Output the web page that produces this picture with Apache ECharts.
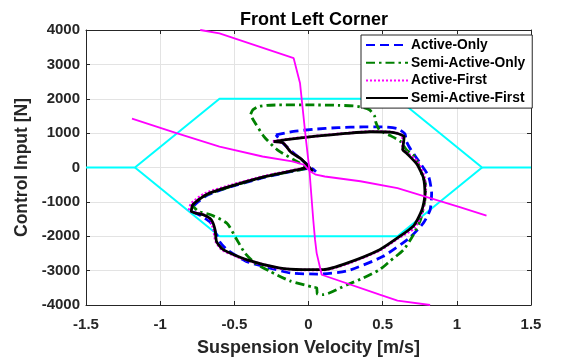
<!DOCTYPE html>
<html><head><meta charset="utf-8">
<script src="https://cdn.jsdelivr.net/npm/echarts/dist/echarts.min.js"></script>
<style>html,body{margin:0;padding:0;background:#fff}#c{width:567px;height:359px}</style>
</head><body><div id="c"></div><script>
// ---- data (suspension velocity [m/s], control input [N]) ----
var activeOnlyV = [-0.22,-0.1,0.03,0.2,0.37,0.5,0.6,0.65,0.66,0.69,0.76,0.81,0.83,0.82,0.775,0.68,0.5,0.26,0.06,-0.12,-0.26,-0.42,-0.55,-0.6,-0.62,-0.66,-0.72,-0.78,-0.77,-0.68,-0.53,-0.3,-0.06,0.02,0.05,-0.02,-0.1,-0.17,-0.22];
var activeOnlyF = [950,1050,1110,1160,1180,1180,1130,980,760,520,80,-260,-750,-1230,-1610,-2050,-2590,-3010,-3100,-3070,-2925,-2730,-2390,-2150,-1950,-1600,-1420,-1260,-1100,-800,-570,-290,-70,-20,-120,130,420,700,950];

var semiOnlyV = [-0.39,-0.375,-0.34,-0.28,-0.2,0.0,0.2,0.33,0.41,0.445,0.455,0.48,0.55,0.62,0.66,0.72,0.77,0.79,0.785,0.755,0.7,0.64,0.55,0.48,0.37,0.26,0.1,0.06,0.055,0.03,-0.125,-0.26,-0.36,-0.43,-0.49,-0.55,-0.66,-0.74,-0.78,-0.69,-0.53,-0.3,-0.05,-0.01,-0.1,-0.21,-0.3,-0.38,-0.39];
var semiOnlyF = [1550,1680,1770,1810,1820,1820,1810,1780,1680,1500,1300,1080,930,760,515,300,-260,-500,-940,-1520,-2010,-2400,-2720,-2970,-3215,-3410,-3700,-3680,-3500,-3480,-3300,-3020,-2780,-2480,-2050,-1620,-1375,-1280,-1100,-800,-560,-270,-60,-17,224,515,900,1440,1550];

var activeFirstV = [-0.24,-0.15,0.05,0.25,0.42,0.55,0.6,0.635,0.635,0.665,0.735,0.78,0.79,0.77,0.715,0.6,0.48,0.26,0.1,-0.04,-0.2,-0.42,-0.58,-0.625,-0.64,-0.665,-0.72,-0.805,-0.79,-0.7,-0.535,-0.3,-0.08,0.0,0.03,-0.05,-0.12,-0.17,-0.24];
var activeFirstF = [760,820,915,995,1045,1035,995,905,540,430,165,-270,-660,-1250,-1750,-2070,-2410,-2800,-2980,-2980,-2930,-2690,-2400,-2150,-1800,-1500,-1350,-1250,-1050,-760,-530,-255,-60,5,-110,250,455,715,760];

var semiFirstV = [-0.235,-0.15,0.05,0.25,0.42,0.55,0.6,0.645,0.64,0.635,0.66,0.73,0.775,0.785,0.765,0.71,0.6,0.48,0.26,0.1,-0.04,-0.2,-0.42,-0.575,-0.62,-0.63,-0.655,-0.71,-0.79,-0.78,-0.69,-0.53,-0.3,-0.08,0.0,0.03,-0.05,-0.12,-0.17,-0.235];
var semiFirstF = [750,810,910,990,1040,1030,990,900,700,520,420,100,-300,-800,-1230,-1690,-2050,-2390,-2780,-2970,-2970,-2920,-2680,-2390,-2150,-1810,-1520,-1375,-1280,-1080,-790,-550,-270,-70,0,-110,250,450,710,750];

var cyanUpperV = [-1.5,-1.17,-0.6,0.6,1.17,1.5];
var cyanUpperF = [0,0,2000,2000,0,0];
var cyanLowerV = [-1.17,-0.6,0.6,1.17];
var cyanLowerF = [0,-2000,-2000,0];

var magSteepV = [-0.73,-0.6,-0.1,-0.057,-0.017,0.005,0.032,0.044,0.055,0.089,0.1,0.48,0.6,0.82];
var magSteepF = [4000,3900,3180,2450,805,-17,-1520,-2100,-2490,-3120,-3160,-3700,-3870,-4000];
var magShallowV = [-1.19,-0.89,-0.6,-0.31,-0.11,-0.03,0.01,0.05,0.11,0.35,0.6,1.02,1.2];
var magShallowF = [1420,1000,610,320,175,80,-110,-210,-262,-400,-600,-1150,-1400];

var xTicks = {min:-1.5, max:1.5, interval:0.5};
var yTicks = {min:-4000, max:4000, interval:1000};
var legendNames = ['Active-Only','Semi-Active-Only','Active-First','Semi-Active-First'];

function zip(v,f){ return v.map(function(x,i){ return [x,f[i]]; }); }

var FONT = '"Liberation Sans", Arial, Helvetica, sans-serif';
var AX = '#262626';
function axis(pos, labels, grid){
  var isX = (pos==='bottom'||pos==='top');
  var t = isX ? xTicks : yTicks;
  return {
    type:'value', position:pos, min:t.min, max:t.max, interval:t.interval,
    axisLine:{show:true, onZero:false, lineStyle:{color:AX,width:1}},
    axisTick:{show:true, inside:true, length:4, lineStyle:{color:AX}},
    axisLabel:{show:labels, color:AX, fontFamily:FONT, fontWeight:'bold', fontSize:15, margin: isX?12:6,
      formatter:function(v){ return String(v); }},
    splitLine:{show:grid, lineStyle:{color:'#e3e3e3', width:1}},
    name: labels ? (isX ? 'Suspension Velocity [m/s]' : 'Control Input [N]') : '',
    nameLocation:'middle', nameGap: isX ? 34 : 55,
    nameTextStyle:{color:AX, fontFamily:FONT, fontWeight:'bold', fontSize: isX ? 18 : 17.5}
  };
}

var chart = echarts.init(document.getElementById('c'), null, {renderer:'canvas'});
chart.setOption({
  animation:false,
  backgroundColor:'#fff',
  title:{text:'Front Left Corner', left:309, top:6, textAlign:'center',
    textStyle:{color:'#000', fontFamily:FONT, fontWeight:'bold', fontSize:18}},
  grid:{left:86, right:36, top:30, bottom:54, containLabel:false, outerBoundsMode:'none'},
  xAxis:[axis('bottom',true,true), axis('top',false,false)],
  yAxis:[axis('left',true,true), axis('right',false,false)],
  legend:{data:legendNames, orient:'vertical', left:361, top:35,
    itemWidth:42, itemHeight:14, itemGap:3.7, padding:[3,7,3,4],
    itemStyle:{opacity:0},
    backgroundColor:'#fff', borderColor:AX, borderWidth:1, borderRadius:0,
    textStyle:{color:'#000', fontFamily:FONT, fontWeight:'bold', fontSize:13.8, padding:[0,0,0,-2]}},
  series:[
    {name:'cyanU', type:'line', data:zip(cyanUpperV,cyanUpperF), symbol:'none', z:1,
      lineStyle:{color:'#00FFFF', width:2}, silent:true},
    {name:'cyanL', type:'line', data:zip(cyanLowerV,cyanLowerF), symbol:'none', z:1,
      lineStyle:{color:'#00FFFF', width:2}, silent:true},
    {name:'Active-Only', type:'line', data:zip(activeOnlyV,activeOnlyF), symbol:'none', smooth:0.2, z:2,
      itemStyle:{color:'#0000FF'}, lineStyle:{color:'#0000FF', width:2.8, type:[9,5]}},
    {name:'Semi-Active-Only', type:'line', data:zip(semiOnlyV,semiOnlyF), symbol:'none', smooth:0.2, z:2,
      itemStyle:{color:'#008000'}, lineStyle:{color:'#008000', width:2.8, type:[9,4,2.5,4]}},
    {name:'Active-First', type:'line', data:zip(activeFirstV,activeFirstF), symbol:'none', smooth:0.2, z:2,
      itemStyle:{color:'#FF00FF'}, lineStyle:{color:'#FF00FF', width:2.8, type:[2,2]}},
    {name:'Semi-Active-First', type:'line', data:zip(semiFirstV,semiFirstF), symbol:'none', smooth:0.2, z:2,
      itemStyle:{color:'#000000'}, lineStyle:{color:'#000000', width:2.8}},
    {name:'magSteep', type:'line', data:zip(magSteepV,magSteepF), symbol:'none', z:3,
      lineStyle:{color:'#FF00FF', width:1.8}, silent:true},
    {name:'magShallow', type:'line', data:zip(magShallowV,magShallowF), symbol:'none', z:3,
      lineStyle:{color:'#FF00FF', width:1.8}, silent:true}
  ]
});
</script></body></html>
